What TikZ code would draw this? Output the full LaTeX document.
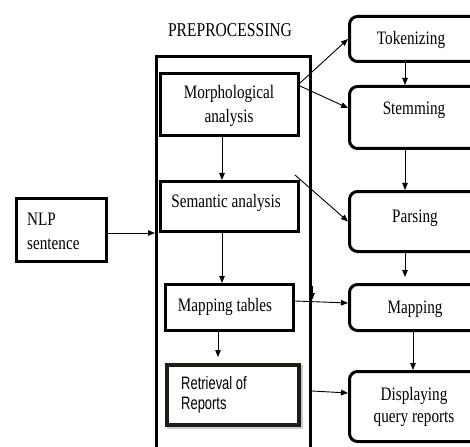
\documentclass[tikz,border=0pt]{standalone}
\usepackage{fontspec}
\setmainfont{Liberation Serif}[FakeStretch=0.8]
\newfontfamily\narrowsans{Liberation Sans}[FakeStretch=0.72]
\usetikzlibrary{arrows.meta}
\tikzset{
  sqbox/.style={draw, line width=3pt, fill=white, inner sep=0pt},
  rbox/.style={draw, line width=3pt, rounded corners=8pt, fill=white, inner sep=0pt},
  outerbox/.style={draw, line width=3pt, inner sep=0pt},
  txt/.style={inner sep=0pt, font=\fontsize{19}{24}\selectfont, align=center},
  arr/.style={line width=0.9pt, -{Triangle[length=7pt,width=5.5pt]}},
}
\begin{document}
\begin{tikzpicture}[x=1pt,y=-1pt]
\clip (0,0) rectangle (470,446);
\fill[white] (0,0) rectangle (470,446);

% preprocessing frame
\node[outerbox, minimum width=154pt, minimum height=413pt] (pre) at (233.5,263) {};
\node[txt, anchor=base, font=\fontsize{19.5}{24}\selectfont] (preT) at (230,37) {PREPROCESSING};

% left column boxes
\node[sqbox, minimum width=138pt, minimum height=62pt] (morph) at (229.5,104.5) {};
\node[txt] (morphT) at (229,106) {Morphological\\analysis};
\node[sqbox, minimum width=138pt, minimum height=50pt] (sem) at (229.5,206.5) {};
\node[txt, anchor=base] (semT) at (226,207) {Semantic analysis};
\node[sqbox, minimum width=128pt, minimum height=46pt] (maptab) at (229.5,307.5) {};
\node[txt, anchor=base] (maptabT) at (225,311) {Mapping tables};
\fill[gray!40] (167,365) rectangle (302.5,428.5);
\node[sqbox, draw={rgb,255:red,30;green,28;blue,20}, line width=4pt, minimum width=132pt, minimum height=60pt] (retr) at (233,395) {};
\node[inner sep=0pt, anchor=north west, align=left, font=\narrowsans\fontsize{18}{20}\selectfont] (retrT) at (181,376) {Retrieval of\\Reports};

% NLP sentence
\node[sqbox, minimum width=90pt, minimum height=63pt] (nlp) at (61.5,230) {};
\node[inner sep=0pt, anchor=north west, align=left, font=\fontsize{19}{24}\selectfont] (nlpT) at (27,212.5) {NLP\\sentence};

% right column boxes
\node[rbox, minimum width=139pt, minimum height=45pt] (tok) at (419,39) {};
\node[txt, anchor=base] (tokT) at (411,45) {Tokenizing};
\node[rbox, minimum width=139pt, minimum height=62pt] (stem) at (419,117.5) {};
\node[txt, anchor=base] (stemT) at (414,115) {Stemming};
\node[rbox, minimum width=139pt, minimum height=60pt] (parse) at (419,221.5) {};
\node[txt, anchor=base] (parseT) at (415,222) {Parsing};
\node[rbox, minimum width=139pt, minimum height=46pt] (map) at (419,307.5) {};
\node[txt, anchor=base] (mapT) at (415,313) {Mapping};
\node[rbox, minimum width=139pt, minimum height=70pt] (disp) at (419,406.5) {};
\node[txt, font=\fontsize{19}{22}\selectfont] (dispT) at (414,407) {Displaying\\query reports};

% connectors
\draw[arr] ([yshift=-3pt]nlp.east) -- (pre.west |- 0,233);
\draw[arr] ([xshift=-7.5pt]morph.south) -- ([xshift=-7.5pt]sem.north);
\draw[arr] ([xshift=-7.5pt]sem.south) -- ([xshift=-7.5pt]maptab.north);
\draw[arr] ([xshift=-11.5pt]maptab.south) -- ([xshift=-15pt,yshift=6pt]retr.north);
\draw[arr] ([yshift=21.5pt]morph.east) -- (tok.west);
\draw[arr] ([yshift=18.5pt]morph.east) -- ([yshift=9.5pt]stem.west);
\draw[arr] ([xshift=-5pt,yshift=5pt]sem.north east) -- (parse.west);
\draw[arr] ([yshift=6.5pt]maptab.east) -- ([yshift=4.5pt]map.west);
\draw[arr] (pre.east |- 0,391) -- ([yshift=13.5pt]disp.west);
\coordinate (tipA) at (312,286);
\coordinate (tipB) at (312,300);
\draw[arr] (tipA) -- (tipB);
\draw[arr] ([xshift=-14pt]tok.south) -- ([xshift=-14pt]stem.north);
\draw[arr] ([xshift=-14pt]stem.south) -- ([xshift=-14pt]parse.north);
\draw[arr] ([xshift=-14pt]parse.south) -- ([xshift=-14pt,yshift=6pt]map.north);
\draw[arr] ([xshift=-6pt]map.south) -- ([xshift=-6pt]disp.north);
\end{tikzpicture}
\end{document}
